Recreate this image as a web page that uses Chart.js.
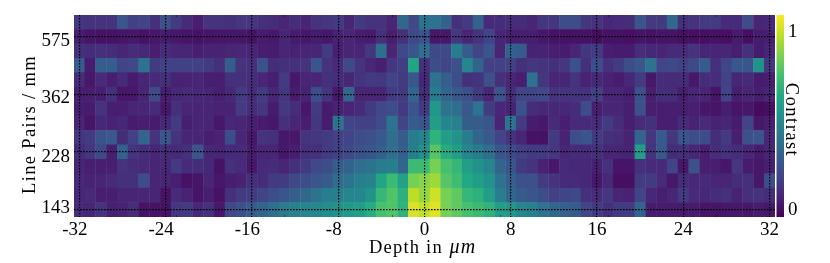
<!DOCTYPE html>
<html><head><meta charset="utf-8">
<style>html,body{margin:0;padding:0;background:#fff}canvas{display:block}</style>
<script src="https://cdn.jsdelivr.net/npm/chart.js@4"></script>
</head><body><canvas id="c" width="830" height="263"></canvas>
<script>
const depthLabels = [-32,-31,-30,-29,-28,-27,-26,-25,-24,-23,-22,-21,-20,-19,-18,-17,-16,-15,-14,-13,-12,-11,-10,-9,-8,-7,-6,-5,-4,-3,-2,-1,0,1,2,3,4,5,6,7,8,9,10,11,12,13,14,15,16,17,18,19,20,21,22,23,24,25,26,27,28,29,30,31,32];
const depthTicks = [-32,-24,-16,-8,0,8,16,24,32];
const depthMinorTicks = [-23,-13,-3,7,17,27];
const pairTickRows = [0,4,8,12];
const pairTickLabels = ['143','228','362','575'];
const colorbarTicks = [0,1];
const row00 = [.09,.07,.12,.05,.06,.1,.01,.01,.01,.13,.15,.08,.11,.03,.2,.23,.28,.32,.36,.42,.45,.47,.47,.5,.53,.56,.58,.65,.75,.77,.68,1.02,.98,1.03,.85,.8,.75,.72,.68,.58,.56,.47,.45,.38,.33,.3,.28,.18,.15,.11,.15,.15,.32,.04,.04,.04,.04,.04,.02,.02,.03,.03,.03,.04,.03];
const row01 = [.08,.09,.05,.05,.07,.07,.07,.07,.01,.09,.06,.02,.05,.01,.11,.15,.15,.18,.22,.25,.29,.33,.39,.44,.44,.47,.47,.53,.7,.77,.67,.97,.9,1,.85,.8,.7,.67,.58,.44,.33,.28,.25,.22,.17,.18,.2,.11,.09,.13,.07,.06,.18,.08,.05,.07,.15,.09,.08,.1,.11,.06,.11,.12,.1];
const row02 = [.09,.06,.07,.09,.11,.11,.22,.07,.07,.05,.01,.02,.07,.03,.05,.06,.11,.1,.15,.15,.2,.22,.25,.28,.36,.38,.44,.45,.62,.72,.6,.85,.88,.92,.78,.73,.63,.58,.53,.38,.3,.23,.23,.15,.12,.09,.09,.08,.03,.08,0,0,.15,.15,.09,.03,.1,.08,.09,.07,.07,.1,.11,.03,.22];
const row03 = [.07,.05,.05,.05,.12,.1,.09,.07,.08,.15,.09,.1,.08,.01,.11,.09,.03,.09,.1,.07,.11,.15,.2,.22,.28,.31,.36,.39,.42,.44,.32,.72,.72,.85,.75,.7,.58,.53,.47,.32,.25,.15,.12,.06,.03,.09,.08,.08,.05,.11,.02,.02,.11,.09,.09,.18,.03,.23,.05,.05,.03,.13,.04,.03,.05];
const row04 = [.1,.13,.2,.05,.3,.12,.1,.07,.1,.09,.11,.25,.08,.07,.09,.09,.04,.07,.07,.03,.05,.11,.11,.15,.17,.2,.23,.25,.3,.36,.3,.44,.53,.78,.65,.58,.47,.42,.36,.25,.22,.17,.15,.15,.13,.08,.1,.09,.11,.07,.07,.06,.58,.12,.27,.1,.11,.07,.05,.1,.12,.1,.07,.04,.07];
const row05 = [.13,.15,.24,.27,.1,.17,.32,.12,.25,.12,.07,.07,.05,.06,.22,.08,.03,.12,.11,.03,.03,.12,.13,.15,.17,.18,.22,.23,.27,.36,.28,.42,.47,.68,.58,.53,.42,.32,.27,.18,.12,.07,.01,.01,.15,.06,.22,.25,.15,.11,.1,.06,.32,.13,.27,.13,.25,.22,.22,.1,.15,.05,.23,.25,.07];
const row06 = [.07,.02,.08,.06,.08,.04,.05,.04,.08,.15,.05,.07,.07,.03,.08,.07,.05,.04,.03,.11,.07,.05,.13,.04,.38,.18,.17,.17,.22,.38,.18,.28,.25,.58,.47,.45,.28,.28,.25,.07,.38,.15,.04,.03,.09,.05,.09,.09,.09,.15,.1,.05,.09,.11,.05,.05,.09,.06,.09,.06,.07,.04,.18,.03,.05];
const row07 = [.05,.04,.12,.05,.05,.07,.07,.09,.03,.11,.07,.07,.07,.06,.06,.15,.1,.13,.04,.14,.1,.03,.15,.04,.06,.07,.09,.15,.2,.22,.15,.25,.15,.56,.38,.36,.27,.38,.15,.08,.06,.23,.1,.08,.08,.08,.1,.22,.05,.07,.07,.05,.23,.05,.05,.05,.05,.05,.03,.02,.05,.02,.03,-.01,0];
const row08 = [.05,.05,.05,.11,.03,.03,.07,.2,.05,.08,.09,.08,.07,.05,.08,.15,.09,.15,.07,.13,.04,.06,.22,.12,.03,.33,.07,.07,.07,.15,.15,.32,.1,.42,.32,.27,.23,.15,.07,.25,.1,.18,.18,.2,.12,.12,.12,.12,.17,.07,.07,.05,.23,.05,.1,.1,.05,.07,.07,.02,.18,.05,.07,.05,.07];
const row09 = [.1,.03,.09,.05,.09,.04,.07,.09,.11,.06,.06,.07,.05,.05,.11,.11,.1,.07,.05,.15,.03,.07,.07,.11,.1,.07,.12,.15,.14,.18,.15,.25,.08,.38,.29,.22,.11,.12,.23,.11,.07,.05,.38,.13,.07,.07,.12,.06,.08,.06,.04,.08,.15,.03,.1,.09,.1,.03,.1,.1,.17,.07,.09,.04,.05];
const row10 = [.28,.04,.29,.29,.18,.2,.38,.15,.17,.17,.17,.17,.15,.11,.28,.12,.11,.23,.1,.11,.11,.12,.25,.12,.09,.2,.12,.08,.05,.13,.16,.62,.11,.22,.18,.23,.47,.31,.17,.17,.17,.11,.13,.12,.11,.13,.23,.11,.22,.11,.15,.22,.26,.38,.18,.2,.17,.2,.28,.11,.18,.26,.25,.53,.13];
const row11 = [.11,.1,.11,.1,.07,.1,.08,.05,.1,.07,.07,.05,.06,.06,.07,.08,.07,.05,.04,.07,.06,.07,.07,.15,.05,.07,.07,.13,.36,.07,.2,.25,.36,.2,.2,.42,.28,.18,.25,.07,.3,.28,.06,.06,.05,.04,.07,.13,.15,.05,.04,.04,.1,.08,.07,.09,.09,.12,.07,.07,.07,.05,.11,.04,.07];
const row12 = [.05,.02,.01,.01,.02,.03,.01,.03,.04,.03,.02,.01,.02,.03,.03,.03,.01,.04,.03,.07,.04,.03,.04,.03,.06,.07,.05,.04,.11,.05,.11,.2,.25,.03,.03,.13,.07,.12,.18,.07,.05,.05,.05,.03,.01,.01,.01,.01,-.01,.01,.01,0,.02,.01,.02,.02,0,0,0,.01,0,.04,0,.04,.05];
const row13 = [.13,.12,.12,.12,.25,.17,.18,.11,.23,.15,.09,.05,.12,.12,.11,.13,.13,.11,.1,.07,.1,.07,.12,.13,.15,.07,.15,.12,.12,.07,.33,.2,.38,.38,.31,.11,.15,.31,.09,.1,.1,.1,.07,.13,.13,.22,.22,.13,.12,.08,.09,.1,.25,.15,.15,.33,.11,.12,.15,.15,.09,.09,.22,.07,.08];
const rows = [row00,row01,row02,row03,row04,row05,row06,row07,row08,row09,row10,row11,row12,row13];
const xTitle = 'Depth in ', xTitleUnit = 'μm', yTitle = 'Line Pairs / mm', cTitle = 'Contrast';

const cMin = -0.045, cMax = 1.084;
const viridis = [[68,1,84],[72,36,117],[65,68,135],[53,95,141],[42,120,142],[33,145,140],[34,168,132],[68,191,112],[122,209,81],[189,223,38],[253,231,37]];
function colorOf(v){
  let n = Math.min(1,Math.max(0,(v-cMin)/(cMax-cMin)))*10;
  const i = Math.min(9,Math.floor(n)), t = n-i, a = viridis[i], b = viridis[i+1];
  return `rgb(${a.map((x,k)=>Math.round(x+(b[k]-x)*t)).join(',')})`;
}
const serif = '"Liberation Serif","Times New Roman",serif';
const tickFont = '19px '+serif;
const pairBaselineShift = [3.2,9.8,8.6,9.3];
const datasets = rows.map((row,r)=>({
  label:'row '+r,
  data: row.map(()=>[r-0.52,r+0.52]),
  backgroundColor: row.map(colorOf),
  borderWidth:0, grouped:false, barPercentage:1.04, categoryPercentage:1
}));
function spaced(ctx,text,x,y,font,spacing,align){
  ctx.font = font; ctx.letterSpacing = spacing+'px'; ctx.textAlign = align; ctx.textBaseline='alphabetic';
  ctx.fillText(text,x,y);
  ctx.letterSpacing = '0px';
}
function noPad(s){s.paddingTop=0;s.paddingBottom=0;s.paddingLeft=0;s.paddingRight=0;}
const decorations = {
  id:'decorations',
  afterDraw(chart){
    const {ctx,chartArea:a,scales:{x,y,yc}} = chart;
    const top = yc.getPixelForValue(cMax), bot = yc.getPixelForValue(cMin);
    const g = ctx.createLinearGradient(0,bot,0,top);
    viridis.forEach((c,i)=>g.addColorStop(i/10,`rgb(${c.join(',')})`));
    ctx.save();
    ctx.fillStyle = g;
    ctx.fillRect(a.right+1.5,top,7.5,bot-top);
    ctx.strokeStyle='rgba(0,0,0,.45)';ctx.lineWidth=1;
    ctx.beginPath();
    depthMinorTicks.forEach(d=>{
      const px = Math.round(x.getPixelForValue(depthLabels.indexOf(d)))+.5;
      ctx.moveTo(px,a.top);ctx.lineTo(px,a.top+2);
      ctx.moveTo(px,a.bottom);ctx.lineTo(px,a.bottom-2);
    });
    ctx.stroke();
    ctx.fillStyle='#000';
    depthTicks.forEach(d=>{
      spaced(ctx,String(d),x.getPixelForValue(depthLabels.indexOf(d))+(d<0?-4.5:0),234.5,tickFont,0,'center');
    });
    pairTickRows.forEach((r,i)=>{
      spaced(ctx,pairTickLabels[i],70,y.getPixelForValue(r)+pairBaselineShift[i],tickFont,0,'right');
    });
    colorbarTicks.forEach(v=>{
      spaced(ctx,String(v),788,yc.getPixelForValue(v)+6.5,tickFont,0,'left');
    });
    spaced(ctx,xTitle,369,253,'18.5px '+serif,1.2,'left');
    spaced(ctx,xTitleUnit,449.5,253,'italic 20px '+serif,1.2,'left');
    ctx.save();ctx.translate(35,124.5);ctx.rotate(-Math.PI/2);
    spaced(ctx,yTitle,0,0,'18.5px '+serif,1.35,'center');ctx.restore();
    ctx.save();ctx.translate(786,120);ctx.rotate(Math.PI/2);
    spaced(ctx,cTitle,0,0,'18.5px '+serif,1.45,'center');ctx.restore();
    ctx.restore();
  }
};
new Chart(document.getElementById('c'),{
  type:'bar',
  data:{labels:depthLabels.map(String),datasets},
  plugins:[decorations],
  options:{
    responsive:false,animation:false,devicePixelRatio:1,
    layout:{padding:{top:15,right:22,left:0,bottom:0}},
    plugins:{legend:{display:false},tooltip:{enabled:false}},
    scales:{
      x:{
        type:'category',offset:true,
        afterBuildTicks(s){s.ticks=s.ticks.filter(t=>depthTicks.includes(depthLabels[t.value]));},
        afterFit(s){s.height=46;noPad(s);},
        grid:{offset:false,color:'#000',lineWidth:1.2,z:1,drawTicks:false},
        border:{display:false,dash:[1.6,1.4]},
        ticks:{autoSkip:false,display:false}
      },
      y:{
        type:'linear',position:'left',min:-0.5,max:13.5,
        afterBuildTicks(s){s.ticks=pairTickRows.map(v=>({value:v}));},
        afterFit(s){s.width=74;noPad(s);},
        grid:{color:'#000',lineWidth:1.2,z:1,drawTicks:false},
        border:{display:false,dash:[1.6,1.4]},
        ticks:{display:false}
      },
      yc:{
        type:'linear',position:'right',min:cMin,max:cMax,
        afterBuildTicks(s){s.ticks=colorbarTicks.map(v=>({value:v}));},
        afterFit(s){s.width=33;noPad(s);},
        grid:{display:false,drawTicks:false},
        border:{display:false},
        ticks:{display:false}
      }
    }
  }
});
</script></body></html>
